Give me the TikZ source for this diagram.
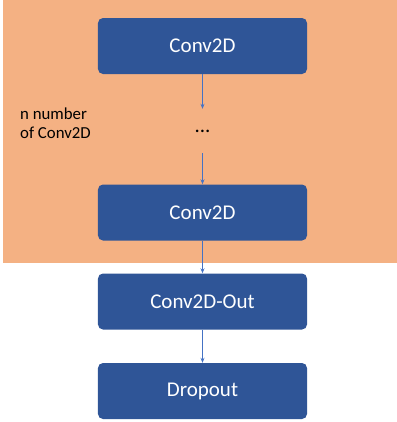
\documentclass[tikz,border=0pt]{standalone}
\usepackage{fontspec}
\setmainfont{Carlito}
\usetikzlibrary{arrows.meta}
\definecolor{bgorange}{HTML}{F4B183}
\definecolor{boxblue}{HTML}{2F5597}
\definecolor{arrowblue}{HTML}{4472C4}
\begin{document}
\begin{tikzpicture}[x=1bp, y=-1bp,
    layer/.style={rectangle, rounded corners=5bp, fill=boxblue, text=white,
        minimum width=209bp, minimum height=56bp, inner sep=0pt,
        font=\fontsize{21bp}{24bp}\selectfont},
    flow/.style={draw=arrowblue, line width=0.8bp, -{Stealth[length=5bp,width=4bp]}}]
    \useasboundingbox (0,0) rectangle (397,422);
    \fill[bgorange] (3,0) rectangle (397,263);

    \node[layer] (c1) at (202.5,46) {Conv2D};
    \node[inner sep=0pt, minimum height=44bp, font=\fontsize{21bp}{24bp}\selectfont] (dots) at (202.5,131) {\raisebox{-4bp}{...}};
    \node[layer] (c2) at (202.5,212.5) {Conv2D};
    \node[layer] (out) at (202.5,301.5) {Conv2D-Out};
    \node[layer] (drop) at (202.5,391) {Dropout};
    \node[anchor=west, align=left, inner sep=0pt,
        font=\fontsize{16.8bp}{19bp}\selectfont] (nlabel) at (20,123) {n number\\of Conv2D};

    \draw[flow] (c1) -- (dots);
    \draw[flow] (dots) -- (c2);
    \draw[flow] (c2) -- (out);
    \draw[flow] (out) -- (drop);
\end{tikzpicture}
\end{document}
